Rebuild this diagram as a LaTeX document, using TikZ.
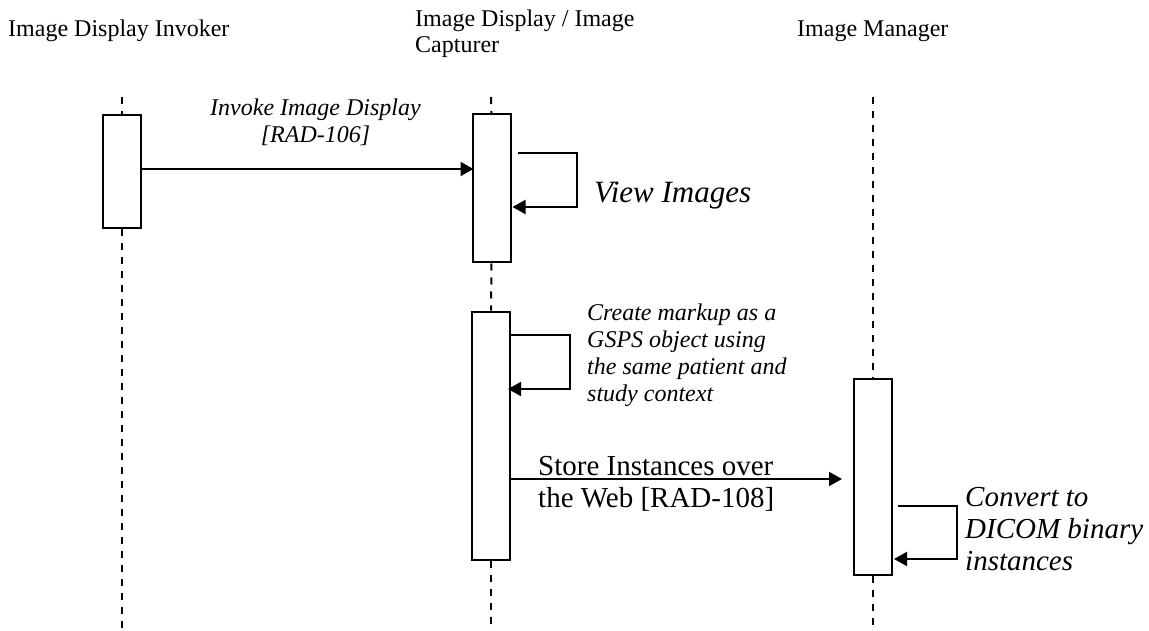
\documentclass[tikz,border=0pt]{standalone}
\usepackage{fontspec}
\setmainfont{Liberation Serif}
\usetikzlibrary{arrows.meta,calc}
\begin{document}
\begin{tikzpicture}[x=1pt,y=-1pt,
  act/.style={draw, line width=2pt, fill=white, minimum width=38pt, inner sep=0pt},
  life/.style={line width=2pt, dash pattern=on 7pt off 7pt},
  msg/.style={line width=2pt, -{Triangle[length=13pt,width=14pt]}},
  hdr/.style={font=\fontsize{24}{26}\selectfont, inner sep=0pt},
  ilab/.style={font=\fontsize{24}{27}\selectfont\itshape, inner sep=0pt},
  big/.style={font=\fontsize{29}{32}\selectfont, inner sep=0pt},
  bigit/.style={font=\fontsize{29}{32}\selectfont\itshape, inner sep=0pt},
]
\useasboundingbox (0,0) rectangle (1149,631);

% activation boxes
\node[act, minimum height=113pt] (b1) at (122,171.5) {};
\node[act, minimum height=148pt] (b2) at (491.5,188.5) {};
\node[act, minimum height=248pt] (b3) at (491,435.5) {};
\node[act, minimum height=196pt] (b4) at (873,476.5) {};

% lifeline ends
\coordinate (t1) at (122,97);  \coordinate (e1) at (122,631);
\coordinate (t2) at (491,97);  \coordinate (e2) at (491,631);
\coordinate (t3) at (873,97);  \coordinate (e3) at (873,631);

\draw[life] (t1) -- (b1.north);
\draw[life] (b1.south) -- (e1);
\draw[life] (t2) -- (b2.north);
\draw[life] (b2.south) -- (b3.north);
\draw[life] (b3.south) -- (e2);
\draw[life] (t3) -- (b4.north);
\draw[life] (b4.south) -- (e3);

% messages
\draw[msg] (b1.east |- 0,169) -- ($(b2.west |- 0,169)+(2,0)$);
\draw[msg] ($(b2.east |- 0,153)+(6,0)$) -- ++(59,0) -- ++(0,54) -- ($(b2.east |- 0,207)+(1,0)$);
\draw[msg] (b3.east |- 0,335) -- ++(59,0) -- ++(0,54) -- ($(b3.east |- 0,389)+(-3,0)$);
\draw[msg] (b3.east |- 0,479) -- ($(b4.west |- 0,479)+(-11,0)$);
\draw[msg] ($(b4.east |- 0,506)+(5,0)$) -- ++(59,0) -- ++(0,53) -- ($(b4.east |- 0,559)+(1,0)$);

% texts (base anchor of a multi-line node = last line's baseline)
\node[hdr, anchor=base west] (h1) at (8,37) {Image Display Invoker};
\node[hdr, anchor=base west, align=left] (h2) at (415,53) {Image Display / Image\\Capturer};
\node[hdr, anchor=base west] (h3) at (797,37) {Image Manager};
\node[ilab, anchor=base, align=center] (m1) at (315.5,143) {Invoke Image Display\\{[RAD-106]}};
\node[font=\fontsize{31}{34}\selectfont\itshape, inner sep=0pt, anchor=base west] (l1) at (594,203) {View Images};
\node[ilab, anchor=base west, align=left] (l2) at (587,401) {Create markup as a\\GSPS object using\\the same patient and\\study context};
\node[big, anchor=base west, align=left] (m2) at (538,507) {Store Instances over\\the Web [RAD-108]};
\node[bigit, anchor=base west, align=left] (l3) at (965,570) {Convert to\\DICOM binary\\instances};
\end{tikzpicture}
\end{document}
